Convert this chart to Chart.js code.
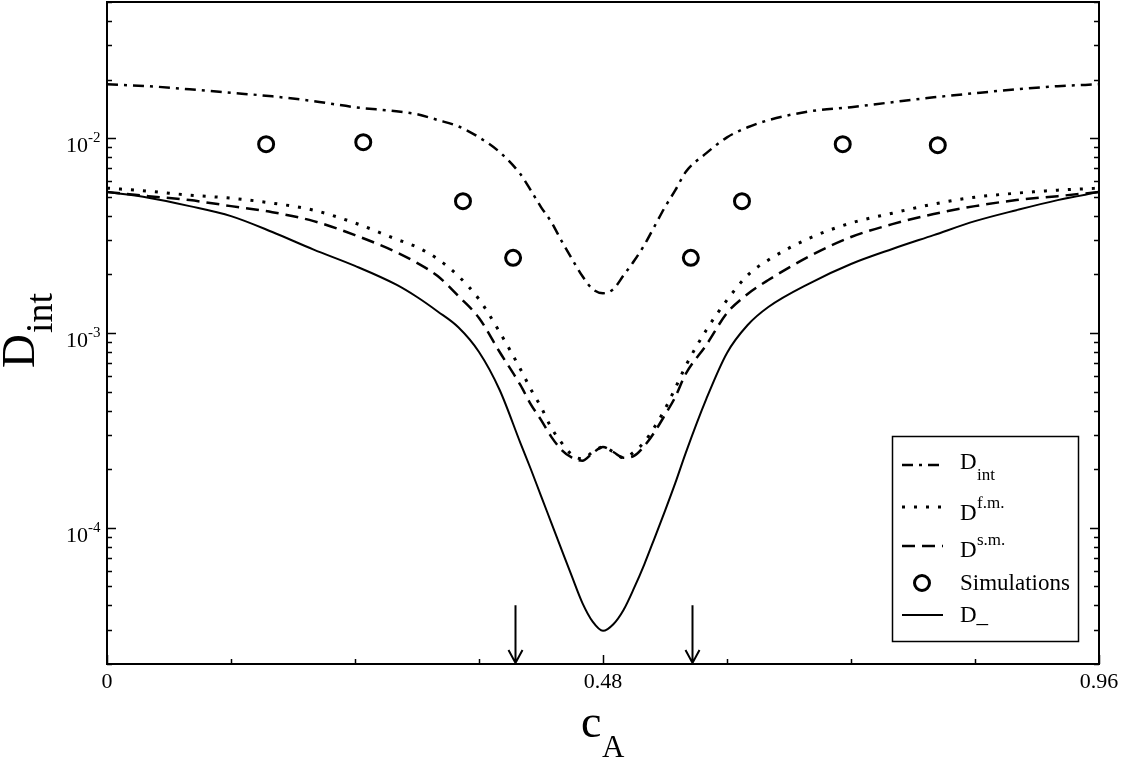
<!DOCTYPE html>
<html>
<head>
<meta charset="utf-8">
<script src="https://cdn.jsdelivr.net/npm/chart.js@4.4.1/dist/chart.umd.min.js"></script>
<style>
  body { margin: 0; background: #fff; }
  canvas { display: block; }
</style>
</head>
<body>
<canvas id="myChart" width="1121" height="759"></canvas>
<script>
// concentration grid (c_A)
const cA = [0, 0.04, 0.08, 0.12, 0.16, 0.20, 0.24, 0.28, 0.30, 0.32, 0.34, 0.36, 0.38, 0.40, 0.41, 0.42, 0.43, 0.44, 0.45, 0.46, 0.47, 0.48,
            0.49, 0.50, 0.51, 0.52, 0.53, 0.54, 0.55, 0.56, 0.58, 0.60, 0.62, 0.64, 0.68, 0.72, 0.76, 0.80, 0.84, 0.88, 0.92, 0.96];

// D_int (dash-dot)
const dInt = [0.0189, 0.01849, 0.01782, 0.0171, 0.0164, 0.01549, 0.01442, 0.01373, 0.01327, 0.0124, 0.0115, 0.0101, 0.00848, 0.00654, 0.00541, 0.00443, 0.00371, 0.00296, 0.0024, 0.00196, 0.00168, 0.0016,
              0.00168, 0.00198, 0.00234, 0.00283, 0.00354, 0.00443, 0.00541, 0.0067, 0.00838, 0.0101, 0.01138, 0.01237, 0.01373, 0.01442, 0.0153, 0.0162, 0.01702, 0.01782, 0.01849, 0.0189];

// D^f.m. (dotted)
const dFm = [5.54e-3, 5.35e-3, 5.10e-3, 4.92e-3, 4.64e-3, 4.27e-3, 3.67e-3, 3.03e-3, 2.76e-3, 2.40e-3, 1.96e-3, 1.49e-3, 1.01e-3, 6.54e-4, 5.16e-4, 4.17e-4, 3.26e-4, 2.73e-4, 2.37e-4, 2.26e-4, 2.45e-4, 2.60e-4,
             2.45e-4, 2.29e-4, 2.45e-4, 2.76e-4, 3.30e-4, 4.07e-4, 5.22e-4, 6.77e-4, 1.036e-3, 1.476e-3, 1.98e-3, 2.37e-3, 3.07e-3, 3.67e-3, 4.12e-3, 4.59e-3, 4.98e-3, 5.22e-3, 5.41e-3, 5.54e-3];

// D^s.m. (dashed)
const dSm = [5.29e-3, 5.04e-3, 4.81e-3, 4.48e-3, 4.17e-3, 3.75e-3, 3.18e-3, 2.60e-3, 2.29e-3, 1.96e-3, 1.548e-3, 1.194e-3, 7.99e-4, 5.41e-4, 4.32e-4, 3.58e-4, 2.93e-4, 2.51e-4, 2.29e-4, 2.21e-4, 2.42e-4, 2.60e-4,
             2.45e-4, 2.29e-4, 2.34e-4, 2.63e-4, 3.11e-4, 3.80e-4, 4.70e-4, 6.16e-4, 8.68e-4, 1.266e-3, 1.585e-3, 1.87e-3, 2.48e-3, 3.11e-3, 3.62e-3, 4.08e-3, 4.48e-3, 4.81e-3, 5.04e-3, 5.29e-3];

// D_ (solid)
const dMinus = [5.29e-3, 4.95e-3, 4.48e-3, 3.98e-3, 3.30e-3, 2.68e-3, 2.21e-3, 1.77e-3, 1.53e-3, 1.29e-3, 1.07e-3, 7.99e-4, 5.10e-4, 2.73e-4, 2.01e-4, 1.459e-4, 1.061e-4, 7.71e-5, 5.61e-5, 4.12e-5, 3.30e-5, 2.96e-5,
                3.20e-5, 3.80e-5, 4.90e-5, 6.50e-5, 8.89e-5, 1.222e-4, 1.70e-4, 2.42e-4, 4.59e-4, 7.90e-4, 1.099e-3, 1.36e-3, 1.80e-3, 2.26e-3, 2.70e-3, 3.18e-3, 3.75e-3, 4.27e-3, 4.81e-3, 5.29e-3];

// simulations (circles)
const simX = [0.154, 0.248, 0.3445, 0.393, 0.565, 0.6145, 0.712, 0.804];
const simY = [0.00931, 0.00954, 0.00475, 0.00243, 0.00243, 0.00475, 0.00931, 0.0092];

// axes
const xTicks = [0, 0.48, 0.96];
const xTickLabels = ['0', '0.48', '0.96'];
const xMinorTicks = [0.12, 0.24, 0.36, 0.60, 0.72, 0.84];
const yTicks = [1e-2, 1e-3, 1e-4];
const yTickExps = ['-2', '-3', '-4'];
const arrowsAt = [0.395, 0.566];
const arrowTop = 4e-5;

const pts = (ys) => ys.map((v, i) => ({ x: cA[i], y: v }));

const SERIF = '"Liberation Serif", "Times New Roman", serif';
const dashDot = [11, 6, 3, 6];
const dotted = [3, 9];
const dashed = [13, 7];

const decor = {
    id: 'decor',
    afterDraw(chart) {
        const { ctx, chartArea: a, scales: { x, y } } = chart;
        ctx.save();
        ctx.strokeStyle = '#000';
        ctx.fillStyle = '#000';
        ctx.setLineDash([]);

        // frame
        ctx.lineWidth = 2;
        ctx.strokeRect(a.left, a.top, a.right - a.left, a.bottom - a.top);

        // y ticks (left and right, pointing inward)
        ctx.lineWidth = 1.5;
        const yMin = y.min, yMax = y.max;
        for (let k = -5; k <= -1; k++) {
            for (let m = 1; m <= 9; m++) {
                const v = m * Math.pow(10, k);
                if (v < yMin * 0.999 || v > yMax * 1.001) continue;
                const py = Math.round(y.getPixelForValue(v)) + 0.5;
                const len = m === 1 ? 9 : 5;
                ctx.beginPath();
                ctx.moveTo(a.left, py); ctx.lineTo(a.left + len, py);
                ctx.moveTo(a.right, py); ctx.lineTo(a.right - len, py);
                ctx.stroke();
            }
        }
        // x ticks (bottom, pointing up)
        xTicks.forEach(v => {
            const px = Math.round(x.getPixelForValue(v)) + 0.5;
            ctx.beginPath(); ctx.moveTo(px, a.bottom); ctx.lineTo(px, a.bottom - 9); ctx.stroke();
        });
        xMinorTicks.forEach(v => {
            const px = Math.round(x.getPixelForValue(v)) + 0.5;
            ctx.beginPath(); ctx.moveTo(px, a.bottom); ctx.lineTo(px, a.bottom - 5); ctx.stroke();
        });

        // x tick labels
        ctx.font = '22px ' + SERIF;
        ctx.textAlign = 'center';
        ctx.textBaseline = 'alphabetic';
        xTicks.forEach((v, i) => {
            ctx.fillText(xTickLabels[i], x.getPixelForValue(v), a.bottom + 24);
        });

        // y tick labels 10^k
        yTicks.forEach((v, i) => {
            const py = y.getPixelForValue(v);
            ctx.font = '22px ' + SERIF;
            ctx.textAlign = 'right';
            ctx.fillText('10', 88, py + 14);
            ctx.font = '15px ' + SERIF;
            ctx.textAlign = 'left';
            ctx.fillText(yTickExps[i], 88, py + 4);
        });

        // arrows
        ctx.lineWidth = 2;
        arrowsAt.forEach(v => {
            const px = Math.round(x.getPixelForValue(v)) + 0.5;
            const top = y.getPixelForValue(arrowTop);
            ctx.beginPath();
            ctx.moveTo(px, top); ctx.lineTo(px, a.bottom - 1);
            ctx.moveTo(px - 7, a.bottom - 14); ctx.lineTo(px, a.bottom - 1); ctx.lineTo(px + 7, a.bottom - 14);
            ctx.stroke();
        });

        // axis titles
        ctx.textAlign = 'left';
        ctx.font = '46px ' + SERIF;
        ctx.fillText('c', 581, 737);
        ctx.font = '31px ' + SERIF;
        ctx.fillText('A', 602, 757);

        ctx.save();
        ctx.translate(34, 368);
        ctx.rotate(-Math.PI / 2);
        ctx.font = '47px ' + SERIF;
        ctx.fillText('D', 0, 0);
        const dw = ctx.measureText('D').width;
        ctx.font = '38px ' + SERIF;
        ctx.fillText('int', dw + 1, 18);
        ctx.restore();

        // legend
        const lx = 892, ly = 436, lw = 186, lh = 205;
        ctx.lineWidth = 1.5;
        ctx.strokeRect(lx + 0.5, ly + 0.5, lw, lh);
        const sx0 = 902, sx1 = 943, tx = 960;
        const sample = (py, dash, w) => {
            ctx.setLineDash(dash);
            ctx.lineWidth = w;
            ctx.beginPath(); ctx.moveTo(sx0, py); ctx.lineTo(sx1, py); ctx.stroke();
            ctx.setLineDash([]);
        };
        sample(465, dashDot, 2.5);
        sample(507, dotted, 3);
        sample(546, dashed, 2.5);
        sample(615, [], 2);
        ctx.lineWidth = 3;
        ctx.beginPath(); ctx.arc(922, 583, 7.5, 0, Math.PI * 2); ctx.stroke();

        ctx.font = '23px ' + SERIF;
        ctx.fillText('D', tx, 469);
        ctx.fillText('D', tx, 520);
        ctx.fillText('D', tx, 557);
        ctx.fillText('Simulations', tx, 590);
        ctx.fillText('D_', tx, 622);
        ctx.font = '17px ' + SERIF;
        const dW = 17;
        ctx.fillText('int', tx + dW, 480);
        ctx.fillText('f.m.', tx + dW, 508);
        ctx.fillText('s.m.', tx + dW, 545);

        ctx.restore();
    }
};

const ctx = document.getElementById('myChart').getContext('2d');
const chart = new Chart(ctx, {
    type: 'line',
    data: {
        datasets: [
            {
                label: 'D_int',
                data: pts(dInt),
                borderColor: '#000',
                borderWidth: 2.5,
                borderDash: dashDot,
                pointRadius: 0,
                cubicInterpolationMode: 'monotone',
                fill: false
            },
            {
                label: 'D^f.m.',
                data: pts(dFm),
                borderColor: '#000',
                borderWidth: 3,
                borderDash: dotted,
                pointRadius: 0,
                cubicInterpolationMode: 'monotone',
                fill: false
            },
            {
                label: 'D^s.m.',
                data: pts(dSm),
                borderColor: '#000',
                borderWidth: 2.5,
                borderDash: dashed,
                pointRadius: 0,
                cubicInterpolationMode: 'monotone',
                fill: false
            },
            {
                label: 'Simulations',
                data: simX.map((v, i) => ({ x: v, y: simY[i] })),
                showLine: false,
                borderColor: '#000',
                backgroundColor: 'rgba(0,0,0,0)',
                borderWidth: 3,
                pointRadius: 7.5,
                pointStyle: 'circle'
            },
            {
                label: 'D_',
                data: pts(dMinus),
                borderColor: '#000',
                borderWidth: 2,
                pointRadius: 0,
                cubicInterpolationMode: 'monotone',
                fill: false
            }
        ]
    },
    options: {
        responsive: false,
        animation: false,
        devicePixelRatio: 1,
        layout: { autoPadding: false, padding: { left: 107, right: 22, top: 2, bottom: 95 } },
        plugins: { legend: { display: false }, tooltip: { enabled: false } },
        scales: {
            x: { type: 'linear', min: 0, max: 0.96, display: false },
            y: { type: 'logarithmic', min: 2e-5, max: 5e-2, display: false }
        }
    },
    plugins: [decor]
});
</script>
</body>
</html>
